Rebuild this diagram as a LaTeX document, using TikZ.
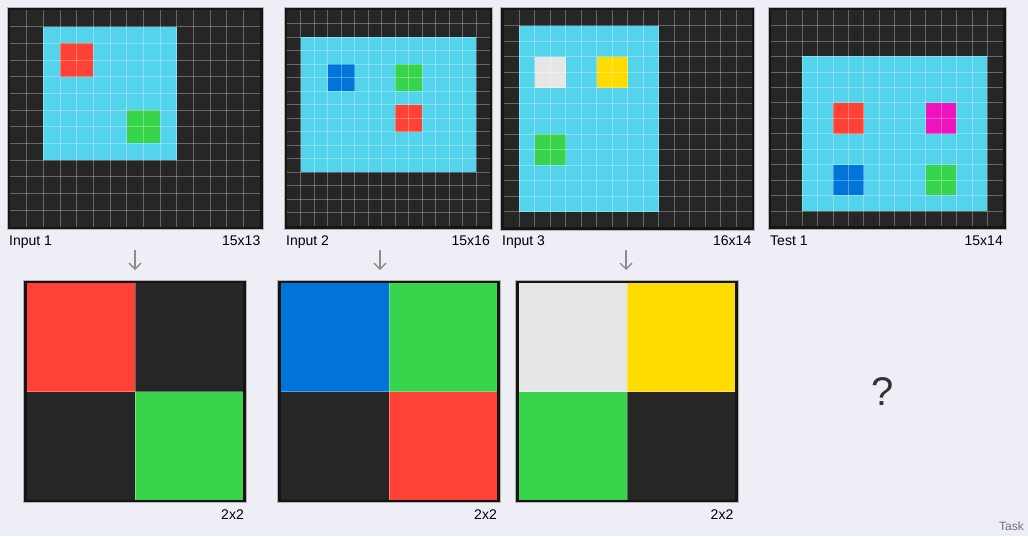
\documentclass[tikz,border=0pt]{standalone}
\usepackage{fontspec}
\setmainfont{Liberation Sans}
\usetikzlibrary{arrows.meta}
\usetikzlibrary{positioning}

\definecolor{pagebg}{HTML}{EDEEF6}
\definecolor{framedark}{HTML}{151515}
\definecolor{cblack}{HTML}{262626}
\definecolor{ccyan}{HTML}{54D3EC}
\definecolor{cred}{HTML}{FF4136}
\definecolor{cgreen}{HTML}{38D44B}
\definecolor{cblue}{HTML}{0074D9}
\definecolor{cyellow}{HTML}{FFDC00}
\definecolor{cgray}{HTML}{E6E6E6}
\definecolor{cmagenta}{HTML}{F012BE}

\tikzset{
  frame/.style={fill=framedark, draw=gray!60, line width=0.6pt},
  gridline/.style={draw=white, opacity=0.3, line width=0.6pt},
  gridname/.style={anchor=base west, inner sep=0pt, font=\fontsize{14}{16}\selectfont},
  gridsize/.style={anchor=base east, inner sep=0pt, font=\fontsize{14}{16}\selectfont},
  flow/.style={draw=black!45, line width=1.3pt, -{Straight Barb[length=6pt,width=12pt]}}
}

\begin{document}
\begin{tikzpicture}[x=1pt, y=-1pt]
  % background
  \fill[pagebg] (0,0) rectangle (1028,536);
  \useasboundingbox (0,0) rectangle (1028,536);

  % Input 1 (15x13)
  \draw[frame] (7,7) rectangle (263,229.7);
  \begin{scope}[shift={(10pt,-10pt)}, x=16.667pt, y=-16.667pt]
    \fill[cblack] (0,0) rectangle (15,13);
    \fill[ccyan] (2,1) rectangle (10,9);
    \fill[cred] (3,2) rectangle (5,4);
    \fill[cgreen] (7,6) rectangle (9,8);
    \foreach \i in {1,...,14} \draw[gridline] (\i,0) -- (\i,13);
    \foreach \j in {1,...,12} \draw[gridline] (0,\j) -- (15,\j);
  \end{scope}
  \node[gridname] (in1name) at (9,245.5) {Input 1};
  \node[gridsize] (in1size) at (260.5,245.5) {15x13};

  % Input 2 (15x16)
  \draw[frame] (284,7) rectangle (492.5,229);
  \begin{scope}[shift={(287pt,-10pt)}, x=13.5pt, y=-13.5pt]
    \fill[cblack] (0,0) rectangle (15,16);
    \fill[ccyan] (1,2) rectangle (14,12);
    \fill[cblue] (3,4) rectangle (5,6);
    \fill[cgreen] (8,4) rectangle (10,6);
    \fill[cred] (8,7) rectangle (10,9);
    \foreach \i in {1,...,14} \draw[gridline] (\i,0) -- (\i,16);
    \foreach \j in {1,...,15} \draw[gridline] (0,\j) -- (15,\j);
  \end{scope}
  \node[gridname] (in2name) at (286,245.5) {Input 2};
  \node[gridsize] (in2size) at (490,245.5) {15x16};

  % Input 3 (16x14)
  \draw[frame] (500.5,7) rectangle (754.5,230);
  \begin{scope}[shift={(503.5pt,-10pt)}, x=15.5pt, y=-15.5pt]
    \fill[cblack] (0,0) rectangle (16,14);
    \fill[ccyan] (1,1) rectangle (10,13);
    \fill[cgray] (2,3) rectangle (4,5);
    \fill[cyellow] (6,3) rectangle (8,5);
    \fill[cgreen] (2,8) rectangle (4,10);
    \foreach \i in {1,...,15} \draw[gridline] (\i,0) -- (\i,14);
    \foreach \j in {1,...,13} \draw[gridline] (0,\j) -- (16,\j);
  \end{scope}
  \node[gridname] (in3name) at (502,245.5) {Input 3};
  \node[gridsize] (in3size) at (751.5,245.5) {16x14};

  % Test 1 (15x14)
  \draw[frame] (768,7) rectangle (1005.8,229.3);
  \begin{scope}[shift={(771pt,-10pt)}, x=15.45pt, y=-15.45pt]
    \fill[cblack] (0,0) rectangle (15,14);
    \fill[ccyan] (2,3) rectangle (14,13);
    \fill[cred] (4,6) rectangle (6,8);
    \fill[cmagenta] (10,6) rectangle (12,8);
    \fill[cblue] (4,10) rectangle (6,12);
    \fill[cgreen] (10,10) rectangle (12,12);
    \foreach \i in {1,...,14} \draw[gridline] (\i,0) -- (\i,14);
    \foreach \j in {1,...,13} \draw[gridline] (0,\j) -- (15,\j);
  \end{scope}
  \node[gridname] (testname) at (770,245.5) {Test 1};
  \node[gridsize] (testsize) at (1003,245.5) {15x14};

  % arrows
  \coordinate (arr1s) at (135,250);
  \coordinate (arr1e) at (135,270);
  \coordinate (arr2s) at (380,250);
  \coordinate (arr2e) at (380,270);
  \coordinate (arr3s) at (626,250);
  \coordinate (arr3e) at (626,270);
  \draw[flow] (arr1s) -- (arr1e);
  \draw[flow] (arr2s) -- (arr2e);
  \draw[flow] (arr3s) -- (arr3e);

  % Output 1
  \draw[frame] (23.7,280.3) rectangle (246.4,502.3);
  \begin{scope}[shift={(26.7pt,-283.3pt)}, x=108.33pt, y=-108.33pt]
    \fill[cred] (0,0) rectangle (1,1);
    \fill[cblack] (1,0) rectangle (2,1);
    \fill[cblack] (0,1) rectangle (1,2);
    \fill[cgreen] (1,1) rectangle (2,2);
    \draw[gridline] (1,0) -- (1,2);
    \draw[gridline] (0,1) -- (2,1);
  \end{scope}
  \node[gridsize] (out1size) at (244,519.3) {2x2};

  % Output 2
  \draw[frame] (277.7,280.3) rectangle (500.4,502.3);
  \begin{scope}[shift={(280.7pt,-283.3pt)}, x=108.33pt, y=-108.33pt]
    \fill[cblue] (0,0) rectangle (1,1);
    \fill[cgreen] (1,0) rectangle (2,1);
    \fill[cblack] (0,1) rectangle (1,2);
    \fill[cred] (1,1) rectangle (2,2);
    \draw[gridline] (1,0) -- (1,2);
    \draw[gridline] (0,1) -- (2,1);
  \end{scope}
  \node[gridsize] (out2size) at (497,519.3) {2x2};

  % Output 3
  \draw[frame] (515.7,280.3) rectangle (738.4,502.3);
  \begin{scope}[shift={(518.7pt,-283.3pt)}, x=108.33pt, y=-108.33pt]
    \fill[cgray] (0,0) rectangle (1,1);
    \fill[cyellow] (1,0) rectangle (2,1);
    \fill[cgreen] (0,1) rectangle (1,2);
    \fill[cblack] (1,1) rectangle (2,2);
    \draw[gridline] (1,0) -- (1,2);
    \draw[gridline] (0,1) -- (2,1);
  \end{scope}
  \node[gridsize] (out3size) at (733.5,519.3) {2x2};

  % test answer
  \node[text=black!80, font=\fontsize{40}{44}\selectfont] (answer) at (883,392) {?};
  \node[anchor=base east, inner sep=0pt, text=black!55, font=\fontsize{12}{14}\selectfont] (tasktag) at (1024,530) {Task};
\end{tikzpicture}
\end{document}
